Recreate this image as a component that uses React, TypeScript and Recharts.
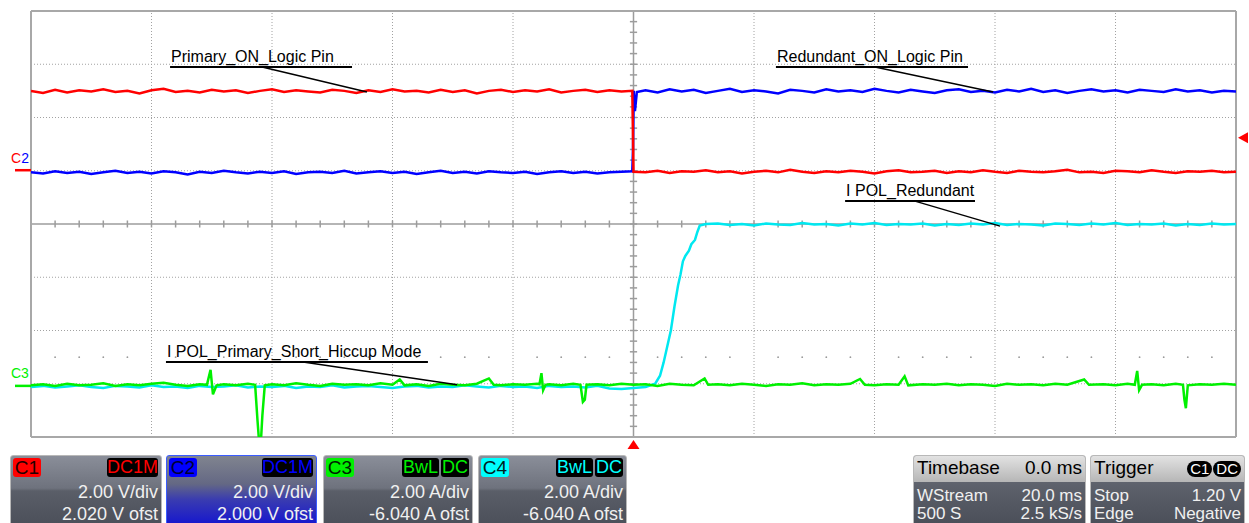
import React from 'react';
import { LineChart, Line, XAxis, YAxis, ReferenceLine, ReferenceDot } from 'recharts';

// ---- time base: 500 samples across 10 divisions; y in divisions (-4..4)
const SAMPLE_STEP = 5;

// C1 (red) – Primary_ON logic pin
const redHigh = [2.50, 2.46, 2.52, 2.47, 2.51, 2.49, 2.53, 2.48, 2.50, 2.45, 2.51, 2.54, 2.48, 2.50, 2.47, 2.52, 2.49, 2.51, 2.46, 2.50, 2.53, 2.48, 2.51, 2.49, 2.47, 2.52, 2.50, 2.46, 2.51, 2.48, 2.53, 2.49, 2.50, 2.47, 2.52, 2.48, 2.51, 2.45, 2.50, 2.52, 2.48, 2.51, 2.49, 2.53, 2.47, 2.50, 2.52, 2.48, 2.51, 2.49];
const redEdge = [{ t: 249.5, v: 2.5 }, { t: 250, v: 0.98 }];
const redLow = [0.97, 1.00, 0.96, 0.99, 0.98, 1.01, 0.97, 0.99, 0.95, 0.98, 1.00, 0.97, 1.02, 0.98, 0.96, 0.99, 0.97, 1.00, 0.98, 0.95, 0.99, 1.01, 0.97, 0.98, 1.00, 0.96, 0.99, 0.97, 1.01, 0.98, 0.96, 1.00, 0.98, 0.97, 0.99, 1.02, 0.97, 0.98, 0.96, 1.00, 0.99, 0.97, 1.01, 0.98, 0.96, 0.99, 0.98, 1.00, 0.97, 0.98];

// C2 (blue) – Redundant_ON logic pin
const blueLow = [0.97, 0.95, 0.99, 0.96, 0.98, 0.94, 0.97, 1.00, 0.96, 0.98, 0.95, 0.99, 0.97, 0.93, 0.98, 0.96, 1.00, 0.97, 0.95, 0.98, 0.96, 0.99, 0.94, 0.97, 0.98, 0.96, 1.00, 0.95, 0.97, 0.99, 0.96, 0.98, 0.94, 0.97, 1.00, 0.96, 0.98, 0.95, 0.99, 0.97, 0.96, 0.98, 0.94, 0.97, 0.99, 0.96, 0.98, 0.95, 0.97, 0.98];
const blueEdge = [{ t: 249.5, v: 0.99 }, { t: 249.8, v: 1.4 }, { t: 250.1, v: 2.5 }, { t: 250.6, v: 2.12 }, { t: 251.4, v: 2.48 }];
const blueHigh = [2.51, 2.47, 2.53, 2.49, 2.52, 2.46, 2.50, 2.54, 2.48, 2.51, 2.49, 2.45, 2.52, 2.50, 2.47, 2.53, 2.49, 2.51, 2.48, 2.54, 2.50, 2.47, 2.52, 2.49, 2.46, 2.51, 2.53, 2.48, 2.50, 2.47, 2.52, 2.49, 2.54, 2.48, 2.51, 2.46, 2.50, 2.53, 2.49, 2.51, 2.47, 2.52, 2.50, 2.48, 2.53, 2.49, 2.51, 2.47, 2.50, 2.49];

// C3 (green) – I POL primary, hiccup mode
const greenT = [0, 5, 10, 15, 20, 25, 30, 35, 40, 45, 50, 55, 60, 65, 70, 73, 74.5, 75.5, 77, 80, 85, 90, 93, 94, 94.5, 95.5, 96, 97, 100, 105, 110, 115, 120, 125, 130, 135, 140, 145, 150, 153, 155, 160, 165, 170, 175, 180, 185, 190, 192, 195, 200, 205, 210, 211, 211.8, 212.5, 213.5, 215, 220, 225, 228, 229, 229.8, 230.5, 235, 240, 245, 250, 255, 260, 265, 270, 275, 279.5, 281, 285, 290, 295, 300, 305, 310, 315, 320, 325, 330, 335, 340, 344, 346, 350, 355, 360, 362.5, 364, 370, 375, 380, 385, 390, 395, 400, 405, 410, 415, 420, 425, 430, 437, 439, 445, 450, 455, 458, 459, 459.8, 461, 465, 470, 475, 478, 478.6, 479.2, 480, 485, 490, 495, 500];
const greenV = [-3.03, -3.01, -3.04, -3.00, -3.03, -3.02, -2.99, -3.04, -3.01, -3.03, -3.00, -2.98, -3.02, -3.04, -3.01, -3.02, -2.74, -3.20, -3.03, -3.01, -3.03, -3.00, -3.02, -3.70, -4.00, -4.00, -3.60, -3.03, -3.01, -3.03, -2.99, -3.02, -3.04, -3.00, -3.02, -3.01, -3.03, -2.99, -3.02, -2.92, -3.03, -3.01, -3.04, -3.00, -3.02, -3.03, -3.00, -2.90, -3.02, -3.03, -3.01, -3.02, -3.00, -3.01, -2.80, -3.12, -3.02, -3.01, -3.03, -3.00, -3.02, -3.34, -3.30, -3.02, -3.01, -3.03, -3.00, -3.02, -3.01, -3.04, -3.00, -3.02, -3.03, -2.90, -3.02, -3.01, -3.03, -3.00, -3.02, -3.04, -3.01, -3.02, -2.99, -3.03, -3.01, -3.02, -3.00, -2.91, -3.02, -3.03, -3.01, -3.02, -2.86, -3.03, -3.01, -3.02, -3.00, -3.03, -3.01, -3.02, -3.04, -3.00, -3.02, -3.01, -3.03, -3.00, -3.02, -2.92, -3.02, -3.01, -3.03, -3.00, -3.02, -2.76, -3.12, -3.02, -3.01, -3.03, -3.00, -3.02, -3.30, -3.46, -3.03, -3.01, -3.02, -3.00, -3.02];

// C4 (cyan) – I POL redundant
const cyanLow = [-3.06, -3.04, -3.07, -3.05, -3.03, -3.06, -3.08, -3.04, -3.05, -3.07, -3.03, -3.06, -3.05, -3.08, -3.04, -3.06, -3.05, -3.03, -3.07, -3.05, -3.06, -3.04, -3.08, -3.05, -3.06, -3.03, -3.07, -3.05, -3.04, -3.06, -3.08, -3.05, -3.04, -3.07, -3.05, -3.06, -3.03, -3.05, -3.07, -3.04, -3.06, -3.05, -3.08, -3.04, -3.06, -3.05, -3.07, -3.04, -3.09, -3.10, -3.08, -3.06];
const cyanRise = [{ t: 259, v: -3.0 }, { t: 261, v: -2.85 }, { t: 262.5, v: -2.6 }, { t: 264, v: -2.3 }, { t: 265.5, v: -2.0 }, { t: 267, v: -1.55 }, { t: 268.5, v: -1.15 }, { t: 269.5, v: -0.95 }, { t: 270.5, v: -0.7 }, { t: 271.5, v: -0.6 }, { t: 273, v: -0.5 }, { t: 274, v: -0.38 }, { t: 275.5, v: -0.3 }, { t: 276.5, v: -0.15 }, { t: 277.5, v: -0.03 }, { t: 280, v: 0.0 }];
const cyanHigh = [0.01, -0.02, 0.00, -0.03, 0.01, -0.01, -0.02, 0.02, -0.01, 0.00, -0.03, 0.01, -0.01, 0.02, -0.02, 0.00, -0.01, 0.01, -0.03, 0.00, -0.02, 0.01, -0.01, 0.02, -0.02, 0.00, -0.01, -0.03, 0.01, 0.00, -0.02, 0.01, -0.01, 0.02, -0.02, 0.00, -0.01, 0.01, -0.03, 0.00, -0.02, 0.01, -0.01, 0.00];

const seq = (vals: number[], start: number) => vals.map((v, i) => ({ t: start + i * SAMPLE_STEP, v }));

const redData = [...seq(redHigh, 0), ...redEdge, ...seq(redLow, 255)];
const blueData = [...seq(blueLow, 0), ...blueEdge, ...seq(blueHigh, 255)];
const greenData = greenT.map((t, i) => ({ t, v: greenV[i] }));
const cyanData = [...seq(cyanLow, 0), ...cyanRise, ...seq(cyanHigh, 285)];

// grid
const GRID_X = [50, 100, 150, 200, 300, 350, 400, 450];
const GRID_Y = [-3, -2, -1, 1, 2, 3];
const TICKS_X = Array.from({ length: 51 }, (_, i) => i * 10);
const TICKS_Y = Array.from({ length: 41 }, (_, i) => -4 + i * 0.2);
const DOTS_ROW = TICKS_X.filter((t) => t % 50 !== 0);

// annotations
const ANNOTATIONS = [
  { label: 'Primary_ON_Logic Pin', x1: 57.7, x2: 133.2, y: 2.95, lx1: 95.9, lx2: 139.4, ly2: 2.48 },
  { label: 'Redundant_ON_Logic Pin', x1: 309.1, x2: 388.8, y: 2.95, lx1: 350.2, lx2: 399.2, ly2: 2.48 },
  { label: 'I POL_Redundant', x1: 337.8, x2: 391.7, y: 0.43, lx1: 366.8, lx2: 402.1, ly2: -0.04 },
  { label: 'I POL_Primary_Short_Hiccup Mode', x1: 56.0, x2: 164.7, y: -2.59, lx1: 112.9, lx2: 176.8, ly2: -3.02 },
];

const GRID_COLOR = '#a2a2a2';
const FONT = '"Liberation Sans", Arial, sans-serif';

const panelBg = 'linear-gradient(to bottom, #8a8e99 0%, #6e727d 46%, #5a5e68 50%, #4b4f59 100%)';

function Badge({ text, bg, color, style }: { text: string; bg: string; color: string; style: React.CSSProperties }) {
  return (
    <div style={{ position: 'absolute', top: 2, height: 19, lineHeight: '19px', background: bg, color, fontSize: 18, borderRadius: 3, textAlign: 'center', ...style }}>
      {text}
    </div>
  );
}

function ChannelPanel({ left, width, name, color, nameColor, tags, line1, line2, bg, border }: any) {
  return (
    <div style={{ position: 'absolute', left, top: 455, width, height: 72, boxSizing: 'border-box', border: border || '1px solid #b8b8b8', borderRadius: 3, background: bg || panelBg, fontFamily: FONT }}>
      <Badge text={name} bg={color} color={nameColor} style={{ left: 2, width: 28, fontSize: 19 }} />
      {tags.map((tg: any, i: number) => (
        <Badge key={i} text={tg.text} bg="#000" color={color} style={{ right: tg.right, width: tg.width }} />
      ))}
      <div style={{ position: 'absolute', right: 3, top: 27, fontSize: 18, lineHeight: '18px', color: '#f0f0f0', whiteSpace: 'nowrap' }}>{line1}</div>
      <div style={{ position: 'absolute', right: 3, top: 49, fontSize: 18, lineHeight: '18px', color: '#f0f0f0', whiteSpace: 'nowrap' }}>{line2}</div>
    </div>
  );
}

function InfoPanel({ left, width, title, titleRight, rows }: any) {
  return (
    <div style={{ position: 'absolute', left, top: 455, width, height: 72, boxSizing: 'border-box', border: '1px solid #b8b8b8', borderRadius: 3, background: 'linear-gradient(to bottom, #6f737e 0%, #5a5e68 50%, #4a4e58 100%)', fontFamily: FONT, overflow: 'hidden' }}>
      <div style={{ position: 'absolute', left: 0, top: 0, right: 0, height: 26, background: 'linear-gradient(to bottom, #e2e2e2, #b6b6b6)' }}>
        <div style={{ position: 'absolute', left: 3, top: 1, fontSize: 19, lineHeight: '22px', color: '#000' }}>{title}</div>
        <div style={{ position: 'absolute', right: 3, top: 1, fontSize: 19, lineHeight: '22px', color: '#000', whiteSpace: 'nowrap' }}>{titleRight}</div>
      </div>
      {rows.map((r: string[], i: number) => (
        <React.Fragment key={i}>
          <div style={{ position: 'absolute', left: 3, top: 31 + i * 18, fontSize: 17, lineHeight: '17px', color: '#f0f0f0' }}>{r[0]}</div>
          <div style={{ position: 'absolute', right: 3, top: 31 + i * 18, fontSize: 17, lineHeight: '17px', color: '#f0f0f0', whiteSpace: 'nowrap' }}>{r[1]}</div>
        </React.Fragment>
      ))}
    </div>
  );
}

export default function App() {
  return (
    <div style={{ position: 'absolute', left: 0, top: 0, width: 1249, height: 523, background: '#fff', overflow: 'hidden', fontFamily: FONT }}>
      <div style={{ position: 'absolute', left: 0, top: 0 }}>
        <LineChart width={1249} height={523} margin={{ top: 11, right: 13, bottom: 86, left: 31 }}>
          <XAxis dataKey="t" type="number" domain={[0, 500]} hide allowDataOverflow />
          <YAxis type="number" domain={[-4, 4]} hide allowDataOverflow />

          {GRID_X.map((x) => (
            <ReferenceLine key={'gx' + x} x={x} stroke={GRID_COLOR} strokeDasharray="1 2" strokeWidth={1} />
          ))}
          {GRID_Y.map((y) => (
            <ReferenceLine key={'gy' + y} y={y} stroke={GRID_COLOR} strokeDasharray="1 2" strokeWidth={1} />
          ))}
          {DOTS_ROW.map((x) => (
            <ReferenceDot key={'d' + x} x={x} y={-2.5} r={0.9} fill="#9a9a9a" stroke="none" />
          ))}
          <ReferenceLine x={250} stroke="#9c9c9c" strokeWidth={1.5} />
          <ReferenceLine y={0} stroke="#9c9c9c" strokeWidth={1.5} />
          {TICKS_X.map((x) => (
            <ReferenceLine key={'tx' + x} segment={[{ x, y: -0.066 }, { x, y: 0.066 }]} stroke="#9c9c9c" strokeWidth={1.5} />
          ))}
          {TICKS_Y.map((y) => (
            <ReferenceLine key={'ty' + y} segment={[{ x: 248.5, y }, { x: 251.5, y }]} stroke="#9c9c9c" strokeWidth={1.5} />
          ))}
          <ReferenceLine x={0} stroke="#a8a8a8" strokeWidth={2} />
          <ReferenceLine x={500} stroke="#a8a8a8" strokeWidth={2} />
          <ReferenceLine y={4} stroke="#a8a8a8" strokeWidth={2} />
          <ReferenceLine y={-4} stroke="#a8a8a8" strokeWidth={2} />

          <Line data={cyanData} dataKey="v" type="linear" stroke="#00e8f0" strokeWidth={2.5} dot={false} isAnimationActive={false} />
          <Line data={greenData} dataKey="v" type="linear" stroke="#00f000" strokeWidth={2.5} dot={false} isAnimationActive={false} />
          <Line data={blueData} dataKey="v" type="linear" stroke="#0000ff" strokeWidth={2.5} dot={false} isAnimationActive={false} />
          <Line data={redData} dataKey="v" type="linear" stroke="#ff0000" strokeWidth={2.5} dot={false} isAnimationActive={false} />

          {ANNOTATIONS.map((a, i) => (
            <ReferenceLine key={'u' + i} segment={[{ x: a.x1, y: a.y }, { x: a.x2, y: a.y }]} stroke="#000" strokeWidth={2} />
          ))}
          {ANNOTATIONS.map((a, i) => (
            <ReferenceLine key={'l' + i} segment={[{ x: a.lx1, y: a.y }, { x: a.lx2, y: a.ly2 }]} stroke="#000" strokeWidth={1.5} />
          ))}
          {ANNOTATIONS.map((a, i) => (
            <ReferenceDot
              key={'t' + i}
              x={a.x1}
              y={a.y}
              r={0}
              ifOverflow="visible"
              shape={(p: any) => (
                <text x={p.cx + 1} y={p.cy - 5} fontSize={16} fontFamily={FONT} fill="#000">
                  {a.label}
                </text>
              )}
            />
          ))}

          {/* channel ground markers */}
          <ReferenceDot
            x={0}
            y={1.01}
            r={0}
            ifOverflow="visible"
            shape={(p: any) => (
              <g>
                <line x1={p.cx - 16} y1={p.cy} x2={p.cx} y2={p.cy} stroke="#ff0000" strokeWidth={2.5} />
                <text x={p.cx - 20} y={p.cy - 7} fontSize={14} fontFamily={FONT}>
                  <tspan fill="#ff0000">C</tspan>
                  <tspan fill="#0000ff">2</tspan>
                </text>
              </g>
            )}
          />
          <ReferenceDot
            x={0}
            y={-3.04}
            r={0}
            ifOverflow="visible"
            shape={(p: any) => (
              <g>
                <line x1={p.cx - 16} y1={p.cy} x2={p.cx} y2={p.cy} stroke="#00f000" strokeWidth={2.5} />
                <text x={p.cx - 20} y={p.cy - 8} fontSize={14} fontFamily={FONT} fill="#00f000">C3</text>
              </g>
            )}
          />
          {/* trigger level and position */}
          <ReferenceDot
            x={500}
            y={1.62}
            r={0}
            ifOverflow="visible"
            shape={(p: any) => <path d={`M${p.cx + 2},${p.cy} L${p.cx + 12},${p.cy - 5.5} L${p.cx + 12},${p.cy + 5.5} Z`} fill="#ff0000" />}
          />
          <ReferenceDot
            x={250}
            y={-4}
            r={0}
            ifOverflow="visible"
            shape={(p: any) => <path d={`M${p.cx},${p.cy + 3} L${p.cx + 6},${p.cy + 12} L${p.cx - 6},${p.cy + 12} Z`} fill="#ff0000" />}
          />
        </LineChart>
      </div>

      <ChannelPanel left={10} width={152} name="C1" color="#ff0000" nameColor="#200000" tags={[{ text: 'DC1M', right: 3, width: 51 }]} line1="2.00 V/div" line2="2.020 V ofst" />
      <ChannelPanel
        left={166}
        width={151}
        name="C2"
        color="#0000ff"
        nameColor="#000030"
        tags={[{ text: 'DC1M', right: 3, width: 51 }]}
        line1="2.00 V/div"
        line2="2.000 V ofst"
        border="1.5px solid #3a5cff"
        bg="linear-gradient(to bottom, #80848f 0%, #646884 40%, #3a3cb0 62%, #1414d0 100%)"
      />
      <ChannelPanel left={323} width={150} name="C3" color="#00f000" nameColor="#002000" tags={[{ text: 'DC', right: 3, width: 28 }, { text: 'BwL', right: 33, width: 37 }]} line1="2.00 A/div" line2="-6.040 A ofst" />
      <ChannelPanel left={478} width={149} name="C4" color="#00ffff" nameColor="#002020" tags={[{ text: 'DC', right: 3, width: 28 }, { text: 'BwL', right: 33, width: 37 }]} line1="2.00 A/div" line2="-6.040 A ofst" />

      <InfoPanel left={913} width={173} title="Timebase" titleRight="0.0 ms" rows={[['WStream', '20.0 ms'], ['500 S', '2.5 kS/s']]} />
      <InfoPanel
        left={1090}
        width={155}
        title="Trigger"
        titleRight={
          <span>
            <span style={{ background: '#000', color: '#fff', borderRadius: 8, padding: '0 3px', fontSize: 15, lineHeight: '16px', display: 'inline-block' }}>C1</span>
            <span style={{ background: '#000', color: '#fff', borderRadius: 8, padding: '0 3px', fontSize: 15, lineHeight: '16px', display: 'inline-block', marginLeft: 1 }}>DC</span>
          </span>
        }
        rows={[['Stop', '1.20 V'], ['Edge', 'Negative']]}
      />
    </div>
  );
}
